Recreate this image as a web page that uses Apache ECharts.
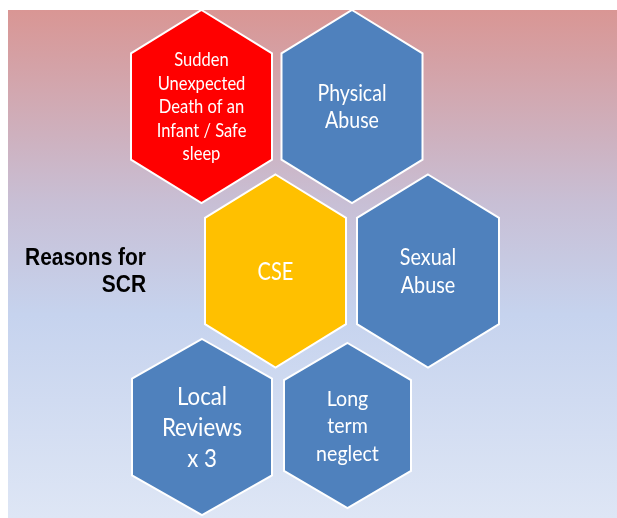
<!DOCTYPE html>
<html>
<head>
<meta charset="utf-8">
<style>
  html, body { margin: 0; padding: 0; background: #fff; }
  #chart { width: 617px; height: 518px; }
</style>
<script src="https://cdn.jsdelivr.net/npm/echarts@6/dist/echarts.min.js"></script>
</head>
<body>
<div id="chart"></div>
<script>
// hexagon labels, centres and sizes (pixel units)
var labels = [
  'Sudden\nUnexpected\nDeath of an\nInfant / Safe\nsleep',
  'Physical\nAbuse',
  'CSE',
  'Sexual\nAbuse',
  'Local\nReviews\nx 3',
  'Long\nterm\nneglect'
];
var hexX = [201.5, 352, 275.5, 428, 202, 347.5];
var hexY = [106.5, 106.5, 271, 271, 427, 425.5];
var hexW = [141, 141, 141, 142, 140, 127];
var hexH = [193, 193, 193, 193, 176, 165];
var hexColors = ['#FF0000', '#4F81BD', '#FFC000', '#4F81BD', '#4F81BD', '#4F81BD'];
var fontSizes = [19, 23, 25, 23, 25, 22];
var lineHeights = [23.5, 27, 30, 28, 31, 27.5];
var textScale = [0.87, 0.85, 0.8, 0.86, 0.89, 0.89];

var dom = document.getElementById('chart');
var myChart = echarts.init(dom, null, { renderer: 'canvas' });

var data = [];
for (var i = 0; i < labels.length; i++) {
  data.push([hexX[i], hexY[i], hexW[i], hexH[i], i]);
}

function renderHex(params, api) {
  var c = api.coord([api.value(0), api.value(1)]);
  var s = api.size([api.value(2), api.value(3)]);
  var idx = api.value(4);
  var w = s[0], h = s[1];
  var q = h * 0.225;
  var top = c[1] - h / 2, bottom = c[1] + h / 2;
  var left = c[0] - w / 2, right = c[0] + w / 2;
  return {
    type: 'group',
    children: [
      {
        type: 'polygon',
        shape: {
          points: [
            [c[0], top], [right, top + q], [right, bottom - q],
            [c[0], bottom], [left, bottom - q], [left, top + q]
          ]
        },
        style: { fill: hexColors[idx], stroke: '#ffffff', lineWidth: 2 }
      },
      {
        type: 'text',
        x: c[0],
        y: c[1] + 0.5,
        scaleX: textScale[idx],
        style: {
          text: labels[idx],
          fill: '#ffffff',
          font: fontSizes[idx] + 'px Lato',
          lineHeight: lineHeights[idx],
          align: 'center',
          verticalAlign: 'middle'
        }
      }
    ]
  };
}

var option = {
  animation: false,
  graphic: [
    {
      type: 'rect',
      z: -10,
      shape: { x: 8, y: 10, width: 609, height: 508 },
      style: {
        fill: new echarts.graphic.LinearGradient(0, 0, 0, 1, [
          { offset: 0, color: '#D99694' },
          { offset: 0.38, color: '#C8BFD5' },
          { offset: 0.6, color: '#C6D3EE' },
          { offset: 1, color: '#DEE6F5' }
        ])
      }
    },
    {
      type: 'text',
      x: 146,
      y: 272,
      z: 10,
      scaleX: 0.91,
      style: {
        text: 'Reasons for\nSCR',
        fill: '#000000',
        font: 'bold 23px "Liberation Sans"',
        lineHeight: 27,
        align: 'right',
        verticalAlign: 'middle'
      }
    }
  ],
  grid: { left: 0, right: 0, top: 0, bottom: 0 },
  xAxis: { type: 'value', min: 0, max: 617, show: false },
  yAxis: { type: 'value', min: 0, max: 518, inverse: true, show: false },
  series: [
    {
      type: 'custom',
      renderItem: renderHex,
      data: data,
      encode: { x: 0, y: 1 }
    }
  ]
};

myChart.setOption(option);
</script>
</body>
</html>
